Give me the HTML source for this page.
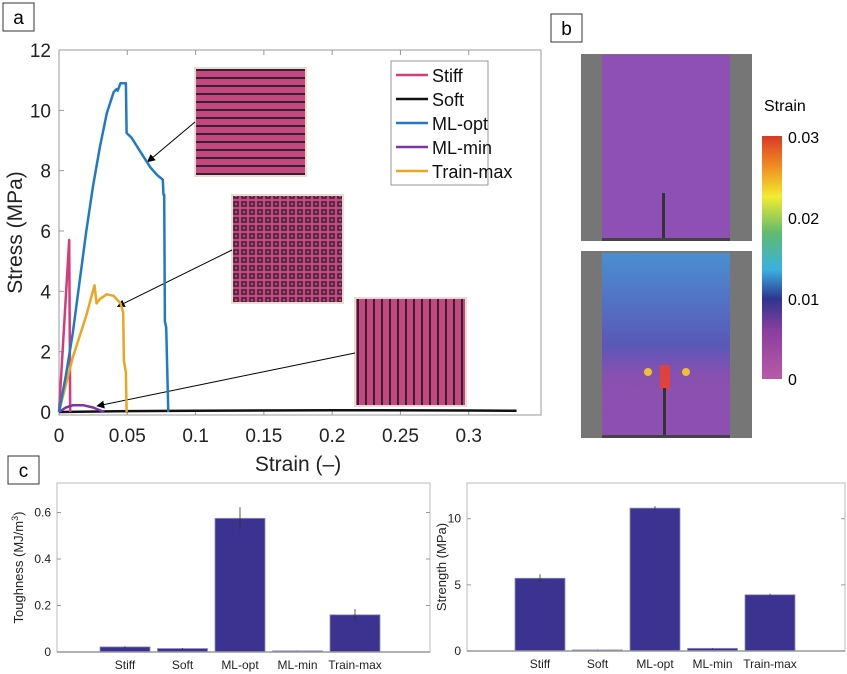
<!DOCTYPE html>
<html><head><meta charset="utf-8"><style>
body{margin:0;background:#fff;width:847px;height:674px;overflow:hidden;font-family:"Liberation Sans",sans-serif;}
svg{position:absolute;left:0;top:0}
</style></head><body>
<svg width="847" height="674">
<defs>
<pattern id="pat1" width="8" height="8" patternUnits="userSpaceOnUse"><rect width="8" height="8" fill="#c2487f"/><rect y="5" width="8" height="2" fill="#3a1f33"/></pattern>
<pattern id="pat2" width="8" height="8" patternUnits="userSpaceOnUse"><rect width="8" height="8" fill="#c2487f"/><rect x="5" width="2" height="8" fill="#3a1f33"/></pattern>
<pattern id="pat3" width="8" height="8" patternUnits="userSpaceOnUse"><rect width="8" height="8" fill="#c2487f"/><rect x="2" y="2" width="4" height="4" fill="none" stroke="#3a1f33" stroke-width="1.5"/></pattern>
<linearGradient id="cbar" x1="0" y1="1" x2="0" y2="0">
<stop offset="0" stop-color="#b85aa8"/><stop offset="0.2" stop-color="#8a3e9e"/><stop offset="0.33" stop-color="#2e3590"/><stop offset="0.45" stop-color="#3ab0e0"/><stop offset="0.6" stop-color="#5fba70"/><stop offset="0.75" stop-color="#f2ec30"/><stop offset="0.88" stop-color="#f08a20"/><stop offset="1" stop-color="#d83a25"/></linearGradient>
<linearGradient id="dicb" x1="0" y1="0" x2="0" y2="1"><stop offset="0" stop-color="#4a8fd0"/><stop offset="0.5" stop-color="#5a58b8"/><stop offset="0.68" stop-color="#8a50b0"/><stop offset="1" stop-color="#8e4fb2"/></linearGradient>
<marker id="ah" markerWidth="8" markerHeight="8" refX="7" refY="4" orient="auto"><path d="M0,0 L8,4 L0,8 z" fill="#000"/></marker>
</defs>

<g><rect x="3" y="3" width="31" height="28" fill="#fff" stroke="#333"/><text x="18.5" y="24" font-size="19" text-anchor="middle">a</text></g>
<g><rect x="551" y="14" width="31" height="28" fill="#fff" stroke="#333"/><text x="566.5" y="35" font-size="19" text-anchor="middle">b</text></g>
<g><rect x="8" y="456" width="31" height="28" fill="#fff" stroke="#333"/><text x="23.5" y="477" font-size="19" text-anchor="middle">c</text></g>

<g id="mainChart"></g>

<g>
<rect x="581" y="54" width="171" height="187" fill="#767676"/>
<rect x="602" y="55" width="128" height="185" fill="#8e50b4"/>
<rect x="662" y="193" width="3" height="46" fill="#333"/>
<rect x="602" y="238" width="128" height="3" fill="#444"/>
<rect x="581" y="251" width="171" height="187" fill="#767676"/>
<rect x="602" y="253" width="128" height="183" fill="url(#dicb)"/>
<rect x="660" y="365" width="10" height="24" fill="#e94030" opacity="0.9"/>
<circle cx="648" cy="372" r="4" fill="#f0c030"/><circle cx="686" cy="372" r="4" fill="#f0c030"/>
<rect x="663" y="388" width="3" height="48" fill="#333"/>
<rect x="602" y="435" width="128" height="3" fill="#444"/>
<text x="764" y="111" font-size="16">Strain</text>
<rect x="762" y="136" width="20" height="243" fill="url(#cbar)"/>
<g font-size="16">
<text x="788" y="143">0.03</text><text x="788" y="224">0.02</text><text x="788" y="305">0.01</text><text x="788" y="385">0</text></g>
</g>

<g id="bar1"></g>
<g id="bar2"></g>
</svg>
<script>
const NS="http://www.w3.org/2000/svg";
function mk(p,t,a){const e=document.createElementNS(NS,t);for(const k in a)e.setAttribute(k,a[k]);p.appendChild(e);return e;}
const seriesNames=["Stiff","Soft","ML-opt","ML-min","Train-max"];
const seriesColors=["#d63a78","#111111","#1f7ac4","#7b35a8","#eaa521"];
const stiffX=[0,0.0075,0.0082];
const stiffY=[0,5.7,0];
const softX=[0,0.05,0.1,0.2,0.3,0.335];
const softY=[0,0.03,0.04,0.06,0.05,0.04];
const mlOptX=[0,0.005,0.01,0.015,0.02,0.025,0.03,0.035,0.04,0.042,0.043,0.045,0.049,0.0495,0.053,0.06,0.067,0.072,0.076,0.0765,0.077,0.0775,0.0785,0.08];
const mlOptY=[0,1.2,2.6,4.3,6.0,7.5,8.8,9.9,10.6,10.7,10.65,10.9,10.9,9.25,9.1,8.6,8.1,7.85,7.7,7.2,7.2,3.0,2.8,0];
const mlMinX=[0,0.005,0.01,0.018,0.025,0.033];
const mlMinY=[0,0.15,0.22,0.22,0.15,0];
const trainX=[0,0.01,0.02,0.026,0.0275,0.03,0.035,0.04,0.045,0.047,0.0475,0.049,0.0495];
const trainY=[0,1.8,3.2,4.2,3.6,3.75,3.9,3.85,3.6,3.3,1.7,1.3,0];
const xTicks=[0,0.05,0.1,0.15,0.2,0.25,0.3];
const xTickLabels=["0","0.05","0.1","0.15","0.2","0.25","0.3"];
const yTicks=[0,2,4,6,8,10,12];
const L=59,R=541,T=50,B=415,X0=0,X1=0.3529,Y0=-0.1,Y1=12;
const sx=v=>L+(v-X0)/(X1-X0)*(R-L), sy=v=>B-(v-Y0)/(Y1-Y0)*(B-T);
const g=document.getElementById('mainChart');
const ax=mk(g,'rect',{x:L,y:T,width:R-L,height:B-T,fill:'#fff',stroke:'#999'});

xTicks.forEach((t,i)=>{mk(g,'line',{x1:sx(t),x2:sx(t),y1:B,y2:B-5,stroke:'#999'});mk(g,'line',{x1:sx(t),x2:sx(t),y1:T,y2:T+5,stroke:'#999'});
 const tx=mk(g,'text',{x:sx(t),y:B+27,'font-size':19,'text-anchor':'middle',fill:'#222'});tx.textContent=xTickLabels[i];
 });
yTicks.forEach(t=>{mk(g,'line',{x1:L,x2:L+5,y1:sy(t),y2:sy(t),stroke:'#999'});
 const tx=mk(g,'text',{x:L-8,y:sy(t)+7,'font-size':19,'text-anchor':'end',fill:'#222'});tx.textContent=t;
 });
let t1=mk(g,'text',{x:sx(0.175),y:471,'font-size':21,'text-anchor':'middle',fill:'#222'});t1.textContent="Strain (–)";

let t2=mk(g,'text',{x:22,y:(T+B)/2,'font-size':21,'text-anchor':'middle',fill:'#222',transform:`rotate(-90 22 ${(T+B)/2})`});t2.textContent="Stress (MPa)";

[[195,68,"pat1"],[232,195,"pat3"],[355,298,"pat2"]].forEach((p,i)=>{const r=mk(g,'rect',{x:p[0],y:p[1],width:111,height:108,fill:`url(#${p[2]})`,stroke:'#e8dcd0','stroke-width':2});
 });
const arrows=[[195,122,sx(0.065),sy(8.3)],[232,250,sx(0.043),sy(3.5)],[355,353,sx(0.028),sy(0.2)]];
arrows.forEach(a=>{const l=mk(g,'line',{x1:a[0],y1:a[1],x2:a[2],y2:a[3],stroke:'#000','stroke-width':1,'marker-end':'url(#ah)'});
 });
const sers=[[stiffX,stiffY],[softX,softY],[mlOptX,mlOptY],[mlMinX,mlMinY],[trainX,trainY]];
[1,0,4,3,2].forEach(i=>{const d=sers[i][0].map((x,j)=>(j?'L':'M')+sx(x).toFixed(1)+','+sy(sers[i][1][j]).toFixed(1)).join('');
 const p=mk(g,'path',{d:d,fill:'none',stroke:seriesColors[i],'stroke-width':2.5,'stroke-linejoin':'round'});
 });
const lg=mk(g,'g',{});
mk(lg,'rect',{x:391,y:61,width:97,height:124,fill:'#fff',stroke:'#999'});
seriesNames.forEach((n,i)=>{const y=75+i*24;mk(lg,'line',{x1:396,x2:428,y1:y,y2:y,stroke:seriesColors[i],'stroke-width':2.5});
 const t=mk(lg,'text',{x:432,y:y+7,'font-size':18,fill:'#111'});t.textContent=n;
 });
// ---- bar charts ----
const barCats=["Stiff","Soft","ML-opt","ML-min","Train-max"];
const toughVals=[0.022,0.015,0.575,0.005,0.16];
const toughErr=[0.003,0.002,0.048,0.001,0.025];
const toughTicks=[0,0.2,0.4,0.6];
const strengthVals=[5.5,0.08,10.8,0.2,4.25];
const strengthErr=[0.3,0.02,0.15,0.03,0.08];
const strengthTicks=[0,5,10];
function bar(id,L,R,T,B,ymax,vals,err,ticks,title,tickFmt,firstOff,titleX){
 const g=document.getElementById(id);const sy=v=>B-v/ymax*(B-T);const step=57.5;
 mk(g,'rect',{x:L,y:T,width:R-L,height:B-T,fill:'#fff',stroke:'#bbb'});
 ticks.forEach(t=>{mk(g,'line',{x1:L,x2:L+4,y1:sy(t),y2:sy(t),stroke:'#999'});mk(g,'line',{x1:R,x2:R-4,y1:sy(t),y2:sy(t),stroke:'#999'});
  const tx=mk(g,'text',{x:L-6,y:sy(t)+4,'font-size':12,'text-anchor':'end',fill:'#222'});tx.textContent=tickFmt(t);
  });
 vals.forEach((v,i)=>{const cx=L+firstOff+step*i;
  const r=mk(g,'rect',{x:cx-25,y:sy(v),width:50,height:B-sy(v),fill:'#3c3290',stroke:'#8f8fbf','stroke-width':0.8});
  
  mk(g,'line',{x1:cx,x2:cx,y1:sy(v-err[i]),y2:sy(v+err[i]),stroke:'#333','stroke-width':0.8});
  const t=mk(g,'text',{x:cx,y:B+17,'font-size':12,'text-anchor':'middle',fill:'#222'});t.textContent=barCats[i];
  });
 mk(g,'line',{x1:L,x2:R,y1:B,y2:B,stroke:'#999','stroke-width':1.5});
 const yt=mk(g,'text',{x:titleX,y:(T+B)/2,'font-size':13,'text-anchor':'middle',fill:'#222',transform:`rotate(-90 ${titleX} ${(T+B)/2})`});yt.innerHTML=title;
 
}
bar('bar1',57,430,483,652,0.727,toughVals,toughErr,toughTicks,'Toughness (MJ/m<tspan baseline-shift="super" font-size="9">3</tspan>)',t=>t===0?'0':t.toFixed(1),68,23);
bar('bar2',467,845,483,651,12.7,strengthVals,strengthErr,strengthTicks,'Strength (MPa)',t=>String(t),73,446);
</script>
</body></html>
